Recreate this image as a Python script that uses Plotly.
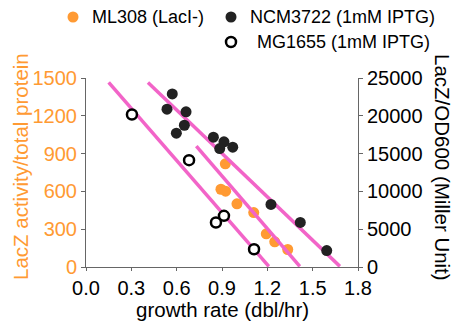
import plotly.graph_objects as go

# ---- data ----
ml308_x = [0.922, 0.893, 0.924, 0.999, 1.110, 1.193, 1.249, 1.335]
ml308_y = [819, 617, 602, 501, 432, 263, 200, 139]  # LacZ activity / total protein

ncm_x = [0.571, 0.536, 0.662, 0.651, 0.598, 0.843, 0.913, 0.885, 0.971, 1.224, 1.418, 1.593]
ncm_y = [22900, 20870, 20530, 18750, 17700, 17170, 16560, 15670, 15850, 8270, 5890, 2180]  # Miller units

mg_x = [0.304, 0.682, 0.913, 0.860, 1.112]
mg_y = [20170, 14130, 6770, 5890, 2350]  # Miller units

# guide lines (left-axis units)
fit_x0 = [0.15, 0.41, 0.73]
fit_x1 = [1.21, 1.68, 1.415]
fit_y0 = [1465, 1465, 960]
fit_y1 = [5, 5, 5]

x_ticks = [0.0, 0.3, 0.6, 0.9, 1.2, 1.5, 1.8]
yl_ticks = [0, 300, 600, 900, 1200, 1500]
yr_ticks = [0, 5000, 10000, 15000, 20000, 25000]
yr_labels = ["0", "5000", "10000", "15000", "20000", "25000"]

series_names = ["ML308 (LacI-)", "NCM3722 (1mM IPTG)", "MG1655 (1mM IPTG)"]

ORANGE = "#FF9A33"
BLACK = "#222222"
PINK = "#F264C8"
FONT = "Liberation Sans, Arial, sans-serif"

W, H = 457, 322
ML, MR, MT, MB = 86, 99, 78, 55
PW, PH = W - ML - MR, H - MT - MB


def px(x):
    return (x - ML) / PW


def py(y):
    return (H - MB - y) / PH


fig = go.Figure()

fig.add_trace(go.Scatter(x=ml308_x, y=ml308_y, mode="markers", name=series_names[0],
                         marker=dict(size=11, color=ORANGE, line=dict(width=0)),
                         showlegend=False))
fig.add_trace(go.Scatter(x=ncm_x, y=ncm_y, mode="markers", name=series_names[1],
                         marker=dict(size=11, color=BLACK, line=dict(width=0)),
                         yaxis="y2", showlegend=False))
fig.add_trace(go.Scatter(x=mg_x, y=mg_y, mode="markers", name=series_names[2],
                         marker=dict(size=10, color="white", line=dict(width=2.5, color="black")),
                         yaxis="y2", showlegend=False))

for a, b, c, d in zip(fit_x0, fit_x1, fit_y0, fit_y1):
    fig.add_trace(go.Scatter(x=[a, b], y=[c, d], mode="lines", showlegend=False,
                             line=dict(color=PINK, width=3.5), hoverinfo="skip"))

axis_common = dict(showgrid=False, zeroline=False, showline=True, linecolor="#666666",
                   linewidth=1, ticks="outside", tickcolor="#666666", tickwidth=1)

# manual legend
leg_items = [
    (73, 17, 90, series_names[0], dict(fillcolor=ORANGE, line=dict(width=0))),
    (231, 17, 248, series_names[1], dict(fillcolor=BLACK, line=dict(width=0))),
    (231, 42, 255, series_names[2], dict(fillcolor="white", line=dict(width=2.5, color="black"))),
]
shapes = []
annotations = []
for mx, my, tx, name, style in leg_items:
    r = 5.5 if style["fillcolor"] != "white" else 5
    shapes.append(dict(type="circle", xref="paper", yref="paper",
                       xsizemode="pixel", ysizemode="pixel",
                       xanchor=px(mx), yanchor=py(my),
                       x0=-r, x1=r, y0=-r, y1=r, **style))
    annotations.append(dict(text=name, xref="paper", yref="paper", x=px(tx), y=py(my),
                            xanchor="left", yanchor="middle", showarrow=False,
                            font=dict(size=18, color="black")))

annotations += [
    dict(text="LacZ activity/total protein", xref="paper", yref="paper",
         x=px(20), y=py(167), textangle=-90, showarrow=False,
         font=dict(size=20.5, color=ORANGE), xanchor="center", yanchor="middle"),
    dict(text="LacZ/OD600 (Miller Unit)", xref="paper", yref="paper",
         x=px(443), y=py(167), textangle=90, showarrow=False,
         font=dict(size=20.5, color="black"), xanchor="center", yanchor="middle"),
    dict(text="growth rate (dbl/hr)", xref="paper", yref="paper",
         x=px(222), y=py(309), showarrow=False,
         font=dict(size=20.5, color="black"), xanchor="center", yanchor="middle"),
]

TICK = 20
fig.update_layout(
    width=W, height=H,
    margin=dict(l=ML, r=MR, t=MT, b=MB),
    paper_bgcolor="white", plot_bgcolor="white",
    font=dict(family=FONT, size=19, color="black"),
    showlegend=False,
    xaxis=dict(range=[0, 1.8], tickvals=x_ticks, tickformat=".1f", ticklen=3,
               tickfont=dict(size=TICK, color="black"), **axis_common),
    yaxis=dict(range=[0, 1500], tickvals=yl_ticks, ticklen=4,
               tickfont=dict(size=TICK, color=ORANGE), **axis_common),
    yaxis2=dict(range=[0, 25000], tickvals=yr_ticks, ticktext=yr_labels, overlaying="y",
                side="right", ticklen=4,
                tickfont=dict(size=TICK, color="black"), **axis_common),
    shapes=shapes,
    annotations=annotations,
)

fig.write_html("out.html")
